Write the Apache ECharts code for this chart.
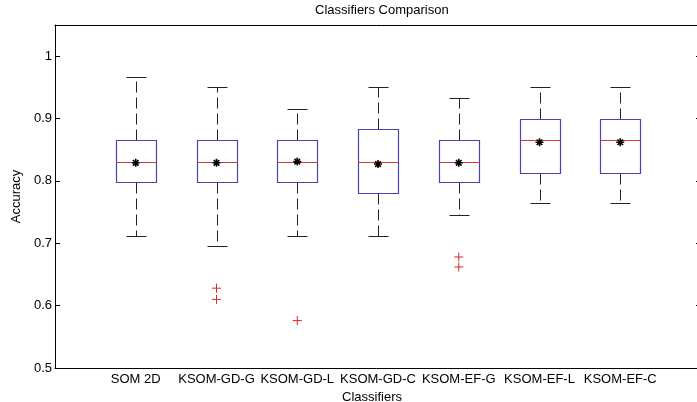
<!DOCTYPE html>
<html>
<head>
  <meta charset="utf-8">
  <title>Classifiers Comparison</title>
  <script src="https://cdn.jsdelivr.net/npm/echarts@6/dist/echarts.min.js"></script>
  <style>
    body { margin: 0; background: #fff; }
  </style>
</head>
<body>
  <div id="container" style="width: 697px; height: 402px"></div>
  <script>
    // values
    const categories = ['SOM 2D', 'KSOM-GD-G', 'KSOM-GD-L', 'KSOM-GD-C', 'KSOM-EF-G', 'KSOM-EF-L', 'KSOM-EF-C'];
    const lowerWhisker = [0.712, 0.696, 0.712, 0.712, 0.746, 0.764, 0.764];
    const q1 = [0.798, 0.798, 0.798, 0.780, 0.798, 0.813, 0.813];
    const medians = [0.831, 0.831, 0.831, 0.831, 0.831, 0.865, 0.865];
    const q3 = [0.865, 0.865, 0.865, 0.883, 0.865, 0.899, 0.899];
    const upperWhisker = [0.967, 0.950, 0.916, 0.950, 0.933, 0.950, 0.950];
    const means = [0.829, 0.829, 0.831, 0.827, 0.829, 0.862, 0.862];
    // [category index, value]
    const outliers = [[1, 0.628], [1, 0.610], [2, 0.576], [4, 0.678], [4, 0.662]];
    const yTicks = [0.5, 0.6, 0.7, 0.8, 0.9, 1];

    const font = "'Liberation Sans', Arial, sans-serif";
    const boxData = categories.map(function (c, i) {
      return [i + 1, lowerWhisker[i], q1[i], medians[i], q3[i], upperWhisker[i]];
    });

    function px(v) { return Math.round(v) + 0.5; }

    function renderBox(params, api) {
      const x = api.value(0);
      const cx = px(api.coord([x, 0.5])[0]);
      const yMin = px(api.coord([x, api.value(1)])[1]);
      const yQ1 = px(api.coord([x, api.value(2)])[1]);
      const yMed = px(api.coord([x, api.value(3)])[1]);
      const yQ3 = px(api.coord([x, api.value(4)])[1]);
      const yMax = px(api.coord([x, api.value(5)])[1]);
      const half = 20, cap = 10;
      const whisker = { stroke: '#222', lineWidth: 1, lineDash: [11, 5] };
      const solid = { stroke: '#222', lineWidth: 1 };
      return {
        type: 'group',
        children: [
          { type: 'line', shape: { x1: cx, y1: yQ3, x2: cx, y2: yMax }, style: whisker },
          { type: 'line', shape: { x1: cx, y1: yQ1, x2: cx, y2: yMin }, style: whisker },
          { type: 'line', shape: { x1: cx - cap, y1: yMax, x2: cx + cap, y2: yMax }, style: solid },
          { type: 'line', shape: { x1: cx - cap, y1: yMin, x2: cx + cap, y2: yMin }, style: solid },
          { type: 'rect', shape: { x: cx - half, y: yQ3, width: half * 2, height: yQ1 - yQ3 },
            style: { fill: '#fff', stroke: '#4646b0', lineWidth: 1.2 } },
          { type: 'line', shape: { x1: cx - half, y1: yMed, x2: cx + half, y2: yMed },
            style: { stroke: '#d23c3c', lineWidth: 1.2 } }
        ]
      };
    }

    const chart = echarts.init(document.getElementById('container'));
    chart.setOption({
      animation: false,
      backgroundColor: '#fff',
      title: {
        text: 'Classifiers Comparison',
        left: 310,
        top: -1,
        textStyle: { fontFamily: font, fontSize: 13, fontWeight: 'normal', color: '#000' }
      },
      grid: { left: 55, top: 25, right: -4, bottom: 34, outerBoundsMode: 'none', containLabel: false },
      xAxis: [
        {
          type: 'value', min: 0, max: 8, interval: 1, position: 'bottom',
          name: 'Classifiers', nameLocation: 'middle', nameGap: 15,
          nameTextStyle: { fontFamily: font, fontSize: 13, color: '#000', padding: [0, 12, 0, 0] },
          axisLine: { onZero: false, lineStyle: { color: '#000', width: 1 } },
          axisTick: { show: false },
          splitLine: { show: false },
          axisLabel: {
            fontFamily: font, fontSize: 13, color: '#000', margin: 5,
            formatter: function (v) { return categories[v - 1] || ''; }
          }
        },
        {
          type: 'value', min: 0, max: 8, interval: 1, position: 'top',
          axisLine: { show: true, onZero: false, lineStyle: { color: '#000', width: 1 } },
          axisTick: { show: false }, axisLabel: { show: false }, splitLine: { show: false }
        }
      ],
      yAxis: [
        {
          type: 'value', min: 0.5, max: 1.05, interval: 0.1, position: 'left',
          name: 'Accuracy', nameLocation: 'middle', nameGap: 27, nameRotate: 90,
          nameTextStyle: { fontFamily: font, fontSize: 13, color: '#000' },
          axisLine: { show: true, onZero: false, lineStyle: { color: '#000', width: 1 } },
          axisTick: { show: true, inside: true, length: 5, lineStyle: { color: '#000' } },
          splitLine: { show: false },
          axisLabel: {
            fontFamily: font, fontSize: 13, color: '#000', margin: 3,
            showMaxLabel: false,
            formatter: function (v) {
              const r = +v.toFixed(2);
              return yTicks.indexOf(r) >= 0 ? String(r) : '';
            }
          }
        },
        {
          type: 'value', min: 0.5, max: 1.05, interval: 0.1, position: 'right',
          axisLine: { show: true, onZero: false, lineStyle: { color: '#000', width: 1 } },
          axisTick: { show: true, inside: true, length: 5, lineStyle: { color: '#000' } },
          axisLabel: { show: false }, splitLine: { show: false }
        }
      ],
      series: [
        {
          type: 'custom',
          name: 'box',
          renderItem: renderBox,
          encode: { x: 0, y: [1, 2, 3, 4, 5] },
          data: boxData,
          z: 2
        },
        {
          type: 'scatter',
          name: 'mean',
          symbol: 'path://M4,0L4,8M0,4L8,4M1.2,1.2L6.8,6.8M6.8,1.2L1.2,6.8',
          symbolSize: 8,
          itemStyle: { color: 'none', borderColor: '#000', borderWidth: 1.6, opacity: 1 },
          data: means.map(function (m, i) { return [i + 1, m]; }),
          z: 4
        },
        {
          type: 'scatter',
          name: 'outliers',
          symbol: 'path://M0,4L8,4M4,0L4,8',
          symbolSize: 9,
          itemStyle: { color: 'none', borderColor: '#d62828', borderWidth: 1, opacity: 1 },
          data: outliers.map(function (o) { return [o[0] + 1, o[1]]; }),
          z: 4
        }
      ]
    });
  </script>
</body>
</html>
